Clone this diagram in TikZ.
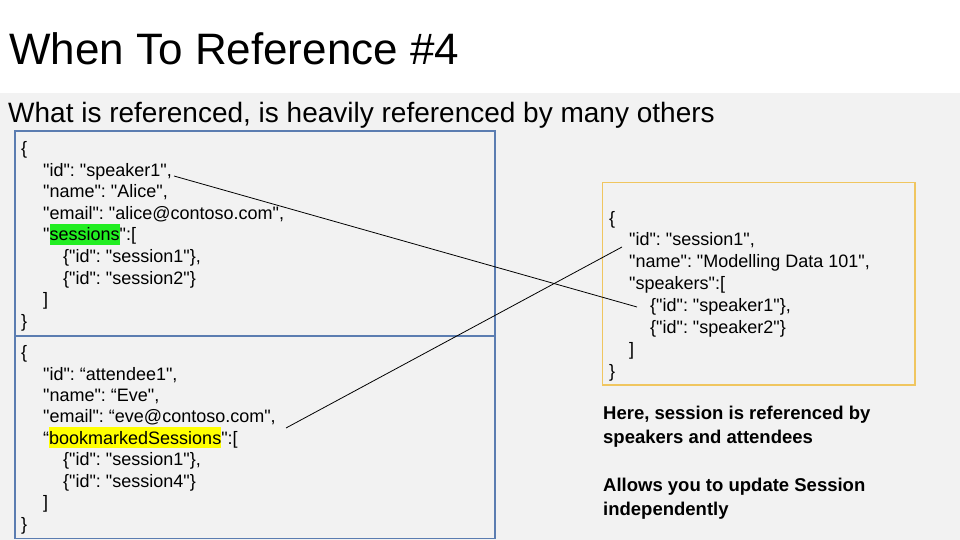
\documentclass[tikz,border=0pt]{standalone}
\usepackage{fontspec}
\setmainfont{Liberation Sans}
\setmonofont{Liberation Sans}
\definecolor{bggray}{HTML}{F2F2F2}
\definecolor{boxblue}{HTML}{5B7DB1}
\definecolor{boxgold}{HTML}{F0C660}
\definecolor{hlgreen}{HTML}{22EE22}
\definecolor{hlyellow}{HTML}{FFFF00}
\newcommand\hlword[2]{{\setlength{\fboxsep}{0pt}\colorbox{#1}{\rule[-4pt]{0pt}{21pt}#2}}}
\begin{document}
\begin{tikzpicture}[x=1pt,y=-1pt,
  jline/.style={anchor=base west, inner sep=0pt, font=\ttfamily\fontsize{18}{21.6}\selectfont},
  note/.style={anchor=base west, inner sep=0pt, font=\fontsize{18.5}{24}\selectfont\bfseries},
  refline/.style={draw=black, line width=0.8pt},
  bluebox/.style={draw=boxblue, line width=1.3pt},
  goldbox/.style={draw=boxgold, line width=1.3pt}]
\useasboundingbox (0,0) rectangle (960,540);
\fill[white] (0,0) rectangle (960,93);
\fill[bggray] (0,93) rectangle (960,540);

\node[anchor=base west, inner sep=0pt, font=\fontsize{44}{50}\selectfont] (title) at (9,65) {When To Reference \#4};
\node[anchor=base west, inner sep=0pt, font=\fontsize{28}{32}\selectfont] (subtitle) at (8,123) {What is referenced, is heavily referenced by many others};

% boxes
\draw[bluebox] (15,131) rectangle (495,336);
\draw[bluebox] (15,336) rectangle (495,538.5);
\draw[goldbox] (602.5,182.5) rectangle (915,385);

% speaker document
\node[jline] (s0) at (21,154.5) {\{};
\node[jline] (s1) at (43,176.1) {"id": "speaker1",};
\node[jline] (s2) at (43,197.7) {"name": "Alice",};
\node[jline] (s3) at (43,219.3) {"email": "alice@contoso.com",};
\node[jline] (s4) at (43,240.9) {"\hlword{hlgreen}{sessions}":[};
\node[jline] (s5) at (63,262.5) {\{"id": "session1"\},};
\node[jline] (s6) at (63,284.1) {\{"id": "session2"\}};
\node[jline] (s7) at (43,305.7) {]};
\node[jline] (s8) at (21,327.3) {\}};

% attendee document
\node[jline] (a0) at (21,358.5) {\{};
\node[jline] (a1) at (43,380) {"id": “attendee1",};
\node[jline] (a2) at (43,401.4) {"name": “Eve",};
\node[jline] (a3) at (43,422.9) {"email": “eve@contoso.com",};
\node[jline] (a4) at (43,444.3) {“\hlword{hlyellow}{bookmarkedSessions}":[};
\node[jline] (a5) at (63,465.8) {\{"id": "session1"\},};
\node[jline] (a6) at (63,487.2) {\{"id": "session4"\}};
\node[jline] (a7) at (43,508.7) {]};
\node[jline] (a8) at (21,530.1) {\}};

% session document
\node[jline] (t0) at (609,224) {\{};
\node[jline] (t1) at (629,245.9) {"id": "session1",};
\node[jline] (t2) at (629,267.8) {"name": "Modelling Data 101",};
\node[jline] (t3) at (629,289.7) {"speakers":[};
\node[jline] (t4) at (650,311.6) {\{"id": "speaker1"\},};
\node[jline] (t5) at (650,333.5) {\{"id": "speaker2"\}};
\node[jline] (t6) at (629,355.4) {]};
\node[jline] (t7) at (609,377.3) {\}};

% notes
\node[note] (n1) at (603,419) {Here, session is referenced by};
\node[note] (n2) at (603,443) {speakers and attendees};
\node[note] (n3) at (603,491) {Allows you to update Session};
\node[note] (n4) at (603,515) {independently};

% connectors
\coordinate (c1a) at (174,176);
\coordinate (c1b) at (637,307);
\coordinate (c2a) at (286,428);
\coordinate (c2b) at (622,247);
\draw[refline] (c1a) -- (c1b);
\draw[refline] (c2a) -- (c2b);
\end{tikzpicture}
\end{document}
